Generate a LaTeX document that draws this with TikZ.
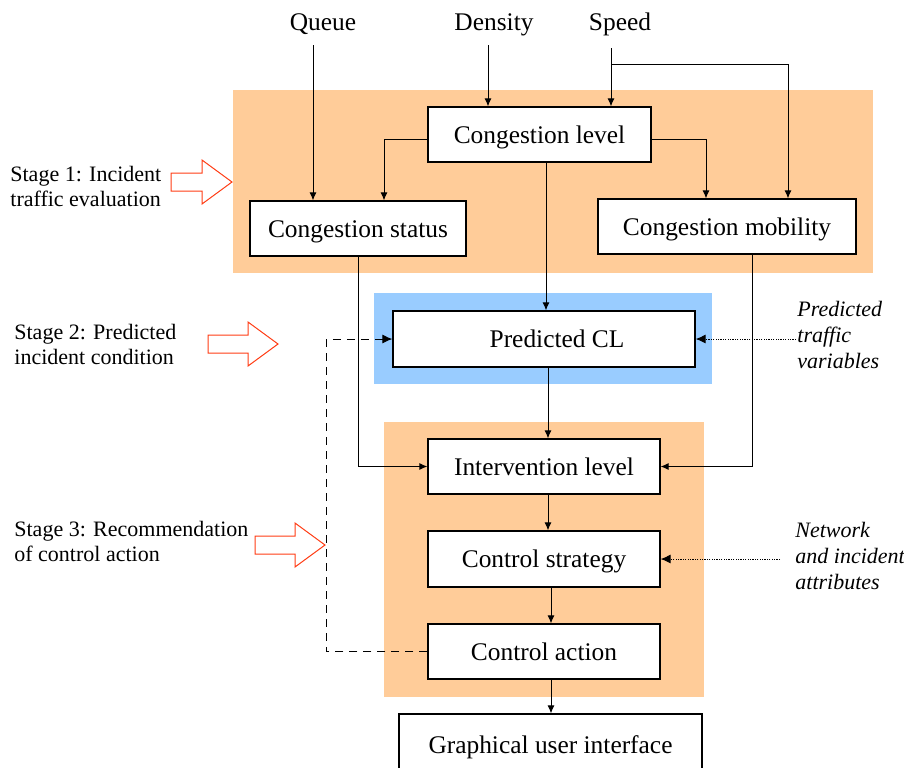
\documentclass[tikz,border=0pt]{standalone}
\usepackage{fontspec}
\setmainfont{Liberation Serif}
\usepackage{tikz}
\usetikzlibrary{arrows.meta}
\definecolor{stageorange}{RGB}{255,204,153}
\definecolor{stageblue}{RGB}{153,204,255}
\definecolor{stagered}{RGB}{255,60,20}
\tikzset{
   box/.style={draw=black, fill=white, line width=0.6pt, inner sep=0pt,
      minimum height=27.5pt, text height=8.5pt, text depth=0pt,
      font=\fontsize{12.7}{15}\selectfont},
   input/.style={text height=8.5pt, text depth=0pt, font=\fontsize{12.7}{15}\selectfont},
   stagetext/.style={anchor=west, align=left, inner sep=0pt,
      font=\fontsize{11}{12.5}\selectfont},
   extra/.style={anchor=west, align=left, inner sep=0pt,
      font=\fontsize{11}{13}\selectfont\itshape},
   flow/.style={draw=black, line width=0.5pt, -{Latex[length=4pt,width=3.5pt]}},
   feedback/.style={flow, dash pattern=on 4pt off 3pt, -{Latex[length=5pt,width=4.5pt]}},
   extern/.style={flow, dash pattern=on 0.6pt off 0.6pt, -{Latex[length=5pt,width=4.5pt]}},
   pics/stagearrow/.style={code={
      \draw[stagered, line width=0.5pt, fill=white]
         (0,-9) -- (#1-30,-9) -- (#1-30,-22) -- (#1,0) -- (#1-30,22) -- (#1-30,9) -- (0,9) -- cycle;
   }},
}

\begin{document}
\begin{tikzpicture}[x=0.5pt, y=-0.5pt]
            \useasboundingbox (0,0) rectangle (904,767);
            \clip (0,0) rectangle (904,767);
            % stage backgrounds
            \fill[stageorange] (233,90) rectangle (873,273);
            \fill[stageblue] (374,293) rectangle (712,384);
            \fill[stageorange] (384,422) rectangle (704,697);
            % inputs
            \node[input] (queue) at (323,22) {Queue};
            \node[input] (density) at (494,22) {Density};
            \node[input] (speed) at (620,22) {Speed};
            \coordinate (qin) at (313,45);
            \coordinate (din) at (488,45);
            \coordinate (sin) at (611,48);
            \coordinate (sbr) at (611,64);
            % boxes
            \node[box, minimum width=111.5pt] (CL) at (539.5,134.5) {Congestion level};
            \node[box, minimum width=108pt] (CS) at (358,228.5) {Congestion status};
            \node[box, minimum width=129pt] (CM) at (727,226.5) {Congestion mobility};
            \node[box, minimum width=151pt, minimum height=28pt] (PCL) at (544,339) {\hspace{13pt}Predicted CL};
            \node[box, minimum width=116pt] (IL) at (544,466.5) {Intervention level};
            \node[box, minimum width=116pt, minimum height=28pt] (CSt) at (544,559) {Control strategy};
            \node[box, minimum width=116pt] (CA) at (544,651.5) {Control action};
            \node[box, minimum width=151.5pt, minimum height=31pt] (GUI) at (550.5,745) {Graphical user interface};
            % side labels
            \node[stagetext] (st1) at (10,186) {Stage 1: Incident\\traffic evaluation};
            \node[stagetext] (st2) at (14,344) {Stage 2: Predicted\\incident condition};
            \node[stagetext] (st3) at (14,541) {Stage 3: Recommendation\\of control action};
            \pic at (171,182) {stagearrow=61};
            \pic at (208,344) {stagearrow=70};
            \pic at (255,545) {stagearrow=70};
            \node[extra] (PTV) at (797,335) {Predicted\\traffic\\variables};
            \node[extra] (NIA) at (795,556) {Network\\and incident\\attributes};
            % connectors
            \draw[flow] (qin) -- (qin |- CS.north);
            \draw[flow] (din) -- (din |- CL.north);
            \draw[flow] (sin) -- (sin |- CL.north);
            \draw[flow] (sbr) -| ([xshift=30.5pt]CM.north);
            \draw[flow] ([yshift=-2.5pt]CL.west) -| ([xshift=13pt]CS.north);
            \draw[flow] ([yshift=-2.5pt]CL.east) -| ([xshift=-10.5pt]CM.north);
            \draw[flow] ([xshift=3.25pt]CL.south) -- ([xshift=3.25pt]CL.south |- PCL.north);
            \draw[flow] (CS.south) |- (IL.west);
            \draw[flow] ([xshift=12.5pt]CM.south) |- (IL.east);
            \draw[flow] ([xshift=2pt]PCL.south) -- ([xshift=2pt]PCL.south |- IL.north);
            \draw[flow] ([xshift=2pt]IL.south) -- ([xshift=2pt]IL.south |- CSt.north);
            \draw[flow] ([xshift=3.5pt]CSt.south) -- ([xshift=3.5pt]CSt.south |- CA.north);
            \draw[flow] ([xshift=3.5pt]CA.south) -- ([xshift=3.5pt]CA.south |- GUI.north);
            \draw[feedback] (CA.west) -- ++(-50.5pt,0) |- (PCL.west);
            \draw[extern] ([xshift=-0.5pt]PTV.west |- PCL.east) -- (PCL.east);
            \draw[extern] ([xshift=-7.5pt]NIA.west |- CSt.east) -- (CSt.east);
        \end{tikzpicture}
\end{document}
